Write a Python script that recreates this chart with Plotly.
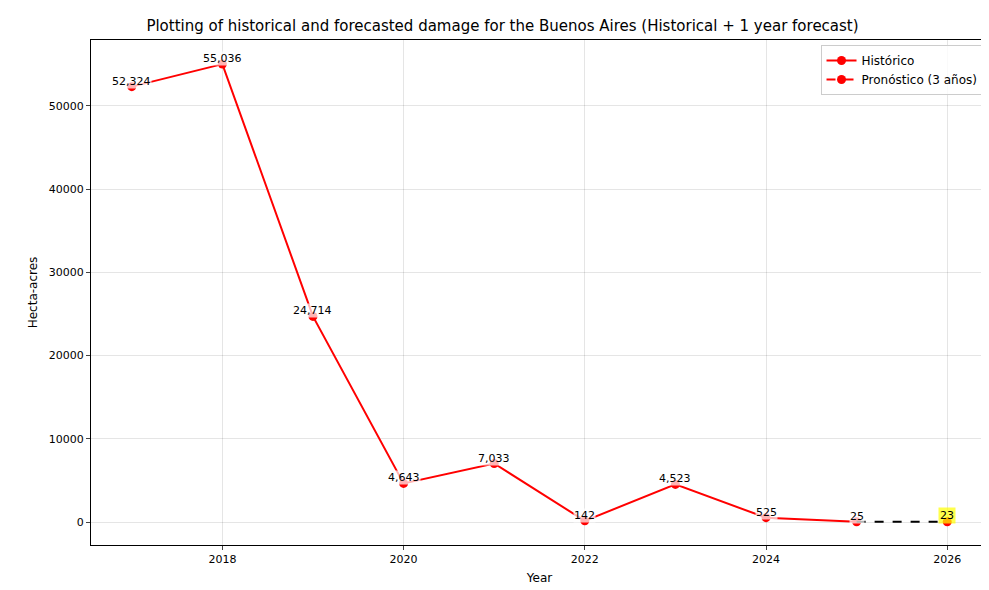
import plotly.graph_objects as go

years = [2017, 2018, 2019, 2020, 2021, 2022, 2023, 2024, 2025]
damage = [52324, 55036, 24714, 4643, 7033, 142, 4523, 525, 25]
fc_years = [2025, 2026]
fc_damage = [25, 23]

fig = go.Figure()
fig.add_trace(go.Scatter(x=years, y=damage, mode='lines+markers', name='Histórico',
                         line=dict(color='red', width=2), marker=dict(color='red', size=9)))
fig.add_trace(go.Scatter(x=fc_years, y=fc_damage, mode='lines', showlegend=False,
                         line=dict(color='black', width=2, dash='dash')))
fig.add_trace(go.Scatter(x=fc_years[1:], y=fc_damage[1:], mode='markers', showlegend=False,
                         marker=dict(color='red', size=9)))
fig.add_trace(go.Scatter(x=[None], y=[None], mode='lines+markers', name='Pronóstico (3 años)',
                         line=dict(color='red', width=2, dash='dash'), marker=dict(color='red', size=9)))

for x, y in zip(years, damage):
    fig.add_annotation(x=x, y=y, text=f'{y:,}', showarrow=False, yanchor='bottom', yshift=-2,
                       bgcolor='rgba(255,255,255,0.7)', borderpad=0,
                       font=dict(size=11, color='black'))
fig.add_annotation(x=fc_years[1], y=fc_damage[1], text=f'{fc_damage[1]:,}', showarrow=False,
                   yanchor='bottom', yshift=-2, bgcolor='rgba(255,255,0,0.7)', borderpad=1,
                   font=dict(size=11, color='black'))

axis = dict(showline=True, linecolor='black', mirror=True, ticks='outside', ticklen=4,
            gridcolor='rgba(0,0,0,0.1)', zeroline=False, automargin=False,
            tickfont=dict(size=11, color='black'))
fig.update_layout(
    width=989, height=590, plot_bgcolor='white', paper_bgcolor='white',
    font=dict(family='DejaVu Sans', color='black'),
    title=dict(text='Plotting of historical and forecasted damage for the Buenos Aires (Historical + 1 year forecast)',
               x=0.5, xanchor='center', y=0.97, yanchor='middle', automargin=False,
               font=dict(size=15)),
    margin=dict(l=83, r=9, t=32, b=53),
    legend=dict(x=0.995, y=0.99, xanchor='right', yanchor='top', bordercolor='#ccc', borderwidth=1,
                bgcolor='rgba(255,255,255,0.8)', font=dict(size=12)),
    xaxis=dict(axis, range=[2016.55, 2026.45], dtick=2,
               title=dict(text='Year', font=dict(size=12), standoff=8)),
    yaxis=dict(axis, range=[-2760, 57930], dtick=10000, tickformat='d',
               title=dict(text='Hecta-acres', font=dict(size=12), standoff=8)),
)
fig.write_html('out.html')
